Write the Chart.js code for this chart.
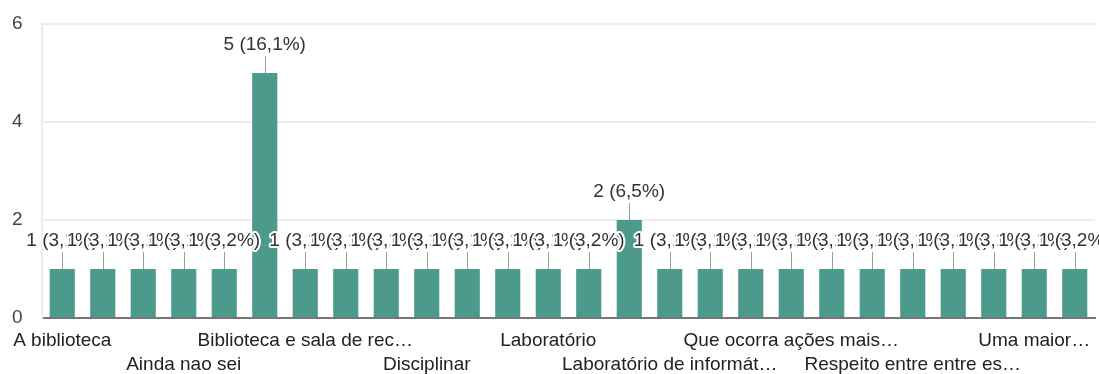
<!DOCTYPE html>
<html>
<head>
<meta charset="utf-8">
<script src="https://cdn.jsdelivr.net/npm/chart.js@4"></script>
<style>
  html, body { margin: 0; padding: 0; background: #fff; }
  #wrap { width: 1099px; height: 374px; }
</style>
</head>
<body>
<div id="wrap"><canvas id="respostas" width="1099" height="374"></canvas></div>
<script>
// categorias (so uma em cada tres aparece no eixo)
const categories = [
  "A biblioteca", "Acessibilidade", "Aulas práticas",
  "Ainda nao sei", "Atividades extras", "Biblioteca",
  "Biblioteca e sala de recursos", "Climatização", "Compromisso",
  "Disciplinar", "Esporte", "Estrutura",
  "Laboratório", "Laboratório de ciências", "Laboratório e quadra",
  "Laboratório de informática", "Mais organização", "Palestras",
  "Que ocorra ações mais frequentes", "Quadra coberta", "Refeitório",
  "Respeito entre entre estudantes", "Segurança", "Tudo",
  "Uma maior participação", "Viagens"
];
const counts = [1, 1, 1, 1, 1, 5, 1, 1, 1, 1, 1, 1, 1, 1, 2, 1, 1, 1, 1, 1, 1, 1, 1, 1, 1, 1];
const percents = ["3,1", "3,1", "3,1", "3,1", "3,2", "16,1", "3,1", "3,1", "3,1", "3,1", "3,1", "3,1", "3,1", "3,2",
  "6,5", "3,1", "3,1", "3,1", "3,1", "3,1", "3,1", "3,1", "3,1", "3,1", "3,1", "3,2"];
const shownLabels = {
  0: "A biblioteca", 3: "Ainda nao sei", 6: "Biblioteca e sala de rec…", 9: "Disciplinar",
  12: "Laboratório", 15: "Laboratório de informát…", 18: "Que ocorra ações mais…",
  21: "Respeito entre entre es…", 24: "Uma maior…"
};
const yTicks = [0, 2, 4, 6];

const FONT = "Liberation Sans, Arial, sans-serif";

const annotations = {
  id: "annotations",
  afterDatasetsDraw(chart) {
    const ctx = chart.ctx;
    const meta = chart.getDatasetMeta(0);
    ctx.save();
    ctx.font = "19px " + FONT;
    ctx.textAlign = "center";
    ctx.textBaseline = "bottom";
    meta.data.forEach((bar, i) => {
      const top = bar.y;
      ctx.strokeStyle = "#9e9e9e";
      ctx.lineWidth = 1;
      ctx.beginPath();
      ctx.moveTo(Math.round(bar.x) + 0.5, top);
      ctx.lineTo(Math.round(bar.x) + 0.5, top - 17);
      ctx.stroke();
      const txt = counts[i] + " (" + percents[i] + "%)";
      ctx.lineJoin = "round";
      ctx.lineWidth = 4;
      ctx.strokeStyle = "#fff";
      ctx.strokeText(txt, bar.x, top - 19);
      ctx.fillStyle = "#333";
      ctx.fillText(txt, bar.x, top - 19);
    });
    ctx.restore();
  }
};

new Chart(document.getElementById("respostas"), {
  type: "bar",
  data: {
    labels: categories,
    datasets: [{
      data: counts,
      backgroundColor: "#4c9a8c",
      categoryPercentage: 1,
      barPercentage: 0.62
    }]
  },
  options: {
    responsive: false,
    animation: false,
    layout: { padding: { top: 24, right: 4, left: 12, bottom: 0 } },
    plugins: { legend: { display: false }, tooltip: { enabled: false } },
    scales: {
      x: {
        grid: { display: false, drawTicks: false },
        border: { color: "#777", width: 2 },
        afterFit: s => { s.height = 56; },
        ticks: {
          autoSkip: false,
          maxRotation: 0,
          padding: 10,
          color: "#222",
          font: { family: FONT, size: 19, lineHeight: 1.3 },
          callback: (v, i) => {
            const l = shownLabels[i];
            if (!l) return "";
            return (i % 6 === 3) ? ["", l] : l;
          }
        }
      },
      y: {
        min: 0,
        max: 6,
        afterFit: s => { s.width = 30; },
        afterBuildTicks: s => { s.ticks = yTicks.map(v => ({ value: v })); },
        grid: { color: "#ececec", lineWidth: 2, drawTicks: false },
        border: { color: "#ececec", width: 2 },
        ticks: {
          padding: 0,
          crossAlign: "far",
          color: "#444",
          font: { family: FONT, size: 19 }
        }
      }
    }
  },
  plugins: [annotations]
});
</script>
</body>
</html>
